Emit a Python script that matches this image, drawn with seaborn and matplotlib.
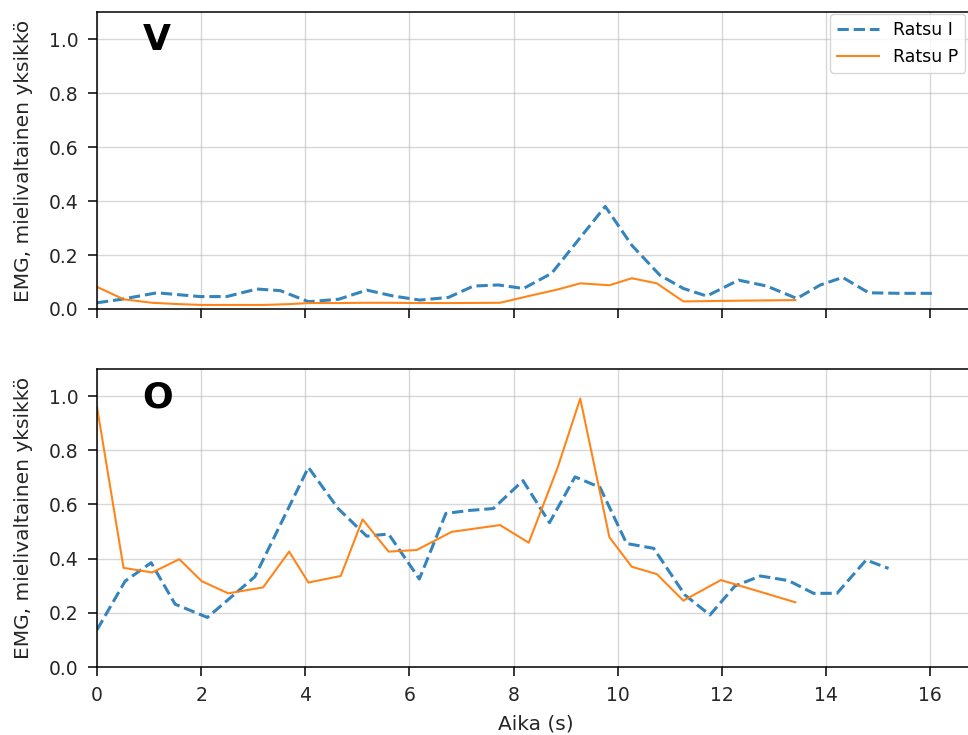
import numpy as np
import pandas as pd
import matplotlib
matplotlib.use("Agg")
import matplotlib.pyplot as plt
import seaborn as sns

# V-lihas (ylempi paneeli)
aika_v_i = [0.0, 0.47, 1.15, 1.98, 2.49, 3.07, 3.52, 4.06, 4.64, 5.18, 5.69, 6.20,
            6.75, 7.23, 7.71, 8.19, 8.73, 9.76, 10.27, 10.81, 11.26, 11.71, 12.32,
            12.86, 13.44, 13.89, 14.32, 14.82, 15.42, 16.06]
emg_v_i = [0.023, 0.036, 0.060, 0.046, 0.046, 0.074, 0.068, 0.027, 0.036, 0.070, 0.048,
           0.033, 0.043, 0.085, 0.089, 0.076, 0.132, 0.380, 0.236, 0.125, 0.076, 0.048,
           0.107, 0.085, 0.039, 0.089, 0.117, 0.060, 0.058, 0.058]

aika_p = [0.0, 0.51, 1.06, 1.58, 2.01, 2.52, 3.19, 3.69, 4.06, 4.68, 5.10, 5.60,
          6.14, 6.81, 7.74, 8.29, 8.84, 9.28, 9.84, 10.27, 10.75, 11.26, 11.98, 13.41]
emg_v_p = [0.082, 0.036, 0.023, 0.018, 0.015, 0.015, 0.015, 0.018, 0.022, 0.022, 0.023,
           0.023, 0.022, 0.022, 0.023, 0.048, 0.072, 0.095, 0.088, 0.114, 0.095, 0.028,
           0.030, 0.033]

# O-lihas (alempi paneeli)
aika_o_i = [0.0, 0.54, 1.04, 1.50, 2.12, 3.03, 4.06, 4.63, 5.18, 5.60, 6.19, 6.70,
            7.15, 7.61, 8.18, 8.69, 9.18, 9.66, 10.17, 10.69, 11.29, 11.77, 12.25,
            12.74, 13.28, 13.76, 14.21, 14.77, 15.20]
emg_o_i = [0.137, 0.317, 0.385, 0.232, 0.183, 0.333, 0.737, 0.585, 0.483, 0.491, 0.325,
           0.567, 0.578, 0.585, 0.688, 0.533, 0.702, 0.663, 0.456, 0.438, 0.266, 0.192,
           0.299, 0.336, 0.319, 0.272, 0.272, 0.395, 0.364]
emg_o_p = [0.960, 0.366, 0.349, 0.398, 0.317, 0.272, 0.294, 0.426, 0.312, 0.336, 0.545,
           0.426, 0.432, 0.499, 0.524, 0.459, 0.733, 0.991, 0.479, 0.370, 0.343, 0.245,
           0.321, 0.239]

plt.rcParams['font.family'] = ['DejaVu Sans']
plt.rcParams['axes.linewidth'] = 1.1

fig = plt.figure(figsize=(9.68, 7.35), dpi=100)
ax1 = fig.add_axes([0.1002, 0.5796, 0.907, 0.404])
ax2 = fig.add_axes([0.1002, 0.0925, 0.907, 0.4054], sharex=ax1)

sininen = '#1f77b4'
oranssi = '#ff7f0e'
teksti = '#262626'

paneelit = [
    (ax1, aika_v_i, emg_v_i, emg_v_p, 'V'),
    (ax2, aika_o_i, emg_o_i, emg_o_p, 'O'),
]

for ax, aika_i, emg_i, emg_p, nimi in paneelit:
    df_i = pd.DataFrame({'aika': aika_i, 'emg': emg_i})
    df_p = pd.DataFrame({'aika': aika_p, 'emg': emg_p})
    sns.lineplot(data=df_i, x='aika', y='emg', ax=ax, color=sininen, linestyle='--',
                 linewidth=2.2, alpha=0.9, label='Ratsu I')
    sns.lineplot(data=df_p, x='aika', y='emg', ax=ax, color=oranssi,
                 linewidth=1.5, alpha=0.95, label='Ratsu P')
    ax.set_ylim(0, 1.1)
    ax.set_xlim(0, 16.86)
    ax.set_yticks(np.arange(0, 1.01, 0.2))
    ax.set_xticks(np.arange(0, 17, 2))
    ax.grid(True, color='#b0b0b0', alpha=0.5, linewidth=1)
    ax.set_ylabel('EMG, mielivaltainen yksikkö', fontsize=14.5, color=teksti, labelpad=11)
    ax.set_xlabel('')
    ax.tick_params(labelsize=13.5, length=6.5, width=1.1, pad=7, labelcolor=teksti)
    ax.text(0.052, 0.905, nimi, transform=ax.transAxes, fontsize=26,
            fontweight='bold', va='center', ha='left')

ax1.legend(loc='upper right', fontsize=12.5, handlelength=2.4,
           bbox_to_anchor=(0.9969, 0.981), bbox_transform=fig.transFigure,
           borderaxespad=0)
ax2.get_legend().remove()
plt.setp(ax1.get_xticklabels(), visible=False)
ax2.set_xlabel('Aika (s)', fontsize=14.5, color=teksti, labelpad=7)

plt.savefig('out.png', dpi=100)
plt.close()
